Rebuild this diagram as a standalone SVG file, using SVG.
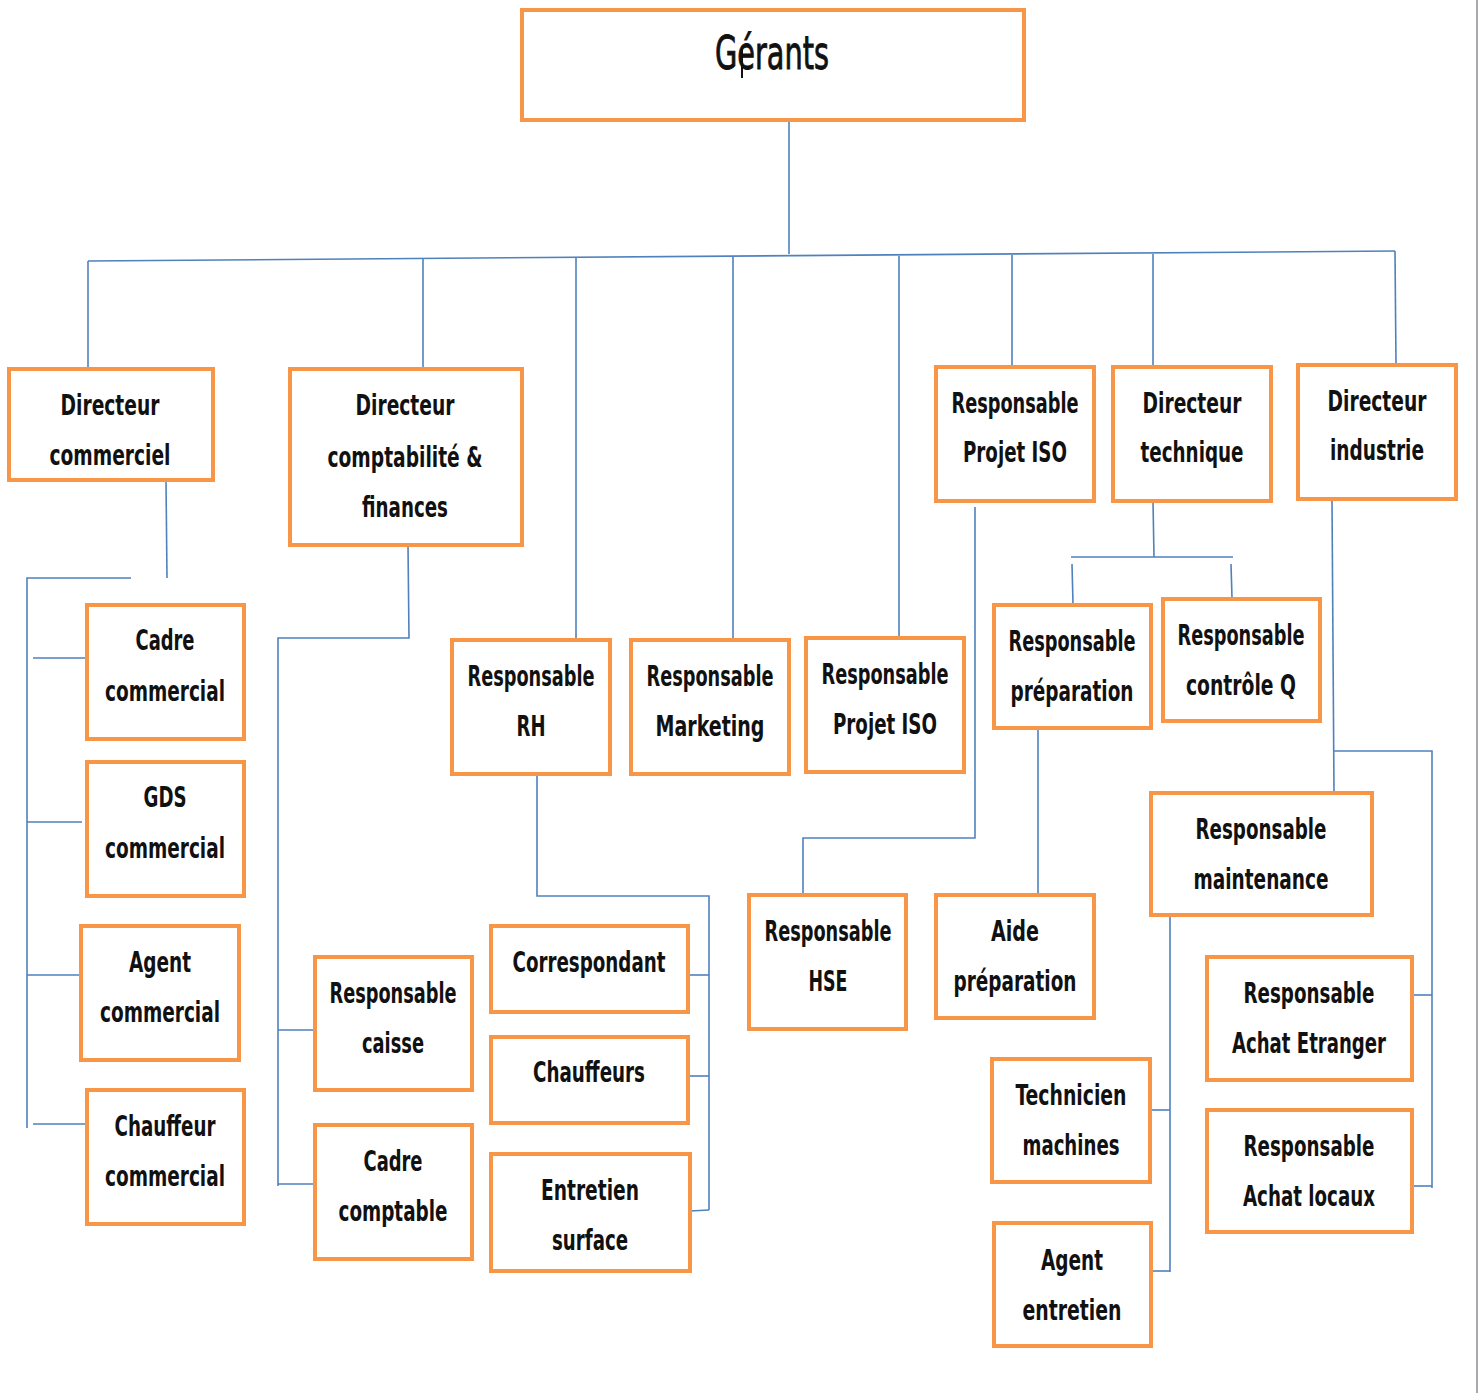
<svg xmlns="http://www.w3.org/2000/svg" width="1481" height="1393" viewBox="0 0 1481 1393">
  <style>
    .box { fill: #ffffff; stroke: #F79646; stroke-width: 4; }
    .lbl { font-family: "Liberation Sans Narrow", "DejaVu Sans Condensed", sans-serif; font-weight: bold; font-size: 29px; fill: #111111; text-anchor: middle; }
    .top { font-family: "Liberation Sans Narrow", "DejaVu Sans Condensed", sans-serif; font-size: 46px; fill: #111111; stroke: #111111; stroke-width: 0.9; text-anchor: middle; }
    .wire { fill: none; stroke: #4F81BD; stroke-width: 1.6; }
  </style>

  <rect x="0" y="0" width="1481" height="1393" fill="#ffffff"/>
  <line x1="1477" y1="0" x2="1477" y2="1393" stroke="#A6AAAE" stroke-width="2"/>

  <!-- connectors -->
  <g id="connectors" class="wire">
    <!-- top level bus -->
    <line x1="789" y1="121" x2="789" y2="254"/>
    <line x1="88" y1="261" x2="1395" y2="251"/>
    <line x1="88" y1="261" x2="88" y2="368"/>
    <line x1="423" y1="259" x2="423" y2="368"/>
    <line x1="576" y1="258" x2="576" y2="639"/>
    <line x1="733" y1="257" x2="733" y2="639"/>
    <line x1="899" y1="256" x2="899" y2="637"/>
    <line x1="1012" y1="255" x2="1012" y2="366"/>
    <line x1="1153" y1="254" x2="1153" y2="366"/>
    <line x1="1395" y1="251" x2="1396" y2="364"/>

    <!-- Directeur commercial -->
    <line x1="166" y1="480" x2="167" y2="578"/>
    <polyline points="131,578 27,578 27,1128"/>
    <line x1="33" y1="658" x2="87" y2="658"/>
    <line x1="27" y1="822" x2="82" y2="822"/>
    <line x1="27" y1="975" x2="81" y2="975"/>
    <line x1="33" y1="1124" x2="87" y2="1124"/>

    <!-- Directeur comptabilite -->
    <polyline points="408,545 409,638 278,638 278,1186"/>
    <line x1="278" y1="1030" x2="315" y2="1030"/>
    <line x1="278" y1="1184" x2="315" y2="1184"/>

    <!-- Responsable RH -->
    <polyline points="537,774 537,896 709,896 709,1210"/>
    <line x1="688" y1="975" x2="709" y2="975"/>
    <line x1="688" y1="1076" x2="709" y2="1076"/>
    <line x1="690" y1="1211" x2="709" y2="1210"/>

    <!-- Responsable Projet ISO (top) -->
    <polyline points="975,507 975,838 803,838 803,894"/>

    <!-- Directeur technique -->
    <line x1="1153" y1="501" x2="1154" y2="557"/>
    <line x1="1071" y1="557" x2="1233" y2="557"/>
    <line x1="1072" y1="564" x2="1073" y2="604"/>
    <line x1="1231" y1="564" x2="1232" y2="598"/>

    <!-- Responsable preparation -->
    <line x1="1038" y1="728" x2="1038" y2="894"/>

    <!-- Directeur industrie -->
    <polyline points="1332,501 1334,792"/>
    <polyline points="1334,751 1432,751 1432,1188"/>
    <line x1="1412" y1="995" x2="1432" y2="995"/>
    <line x1="1412" y1="1186" x2="1432" y2="1186"/>

    <!-- Responsable maintenance -->
    <line x1="1170" y1="915" x2="1170" y2="1272"/>
    <line x1="1150" y1="1110" x2="1170" y2="1110"/>
    <line x1="1151" y1="1271" x2="1170" y2="1271"/>
  </g>

  <!-- nodes -->
  <g id="gerants">
    <rect class="box" x="522" y="10" width="502" height="110"/>
    <text class="top" x="772" y="69" textLength="114" lengthAdjust="spacingAndGlyphs">Gérants</text>
    <line x1="742" y1="48" x2="742" y2="78" stroke="#111111" stroke-width="2"/>
  </g>

  <g id="dir-commercial">
    <rect class="box" x="9" y="369" width="204" height="111"/>
    <text class="lbl" x="110" y="415" textLength="99" lengthAdjust="spacingAndGlyphs">Directeur</text>
    <text class="lbl" x="110" y="465" textLength="121" lengthAdjust="spacingAndGlyphs">commerciel</text>
  </g>

  <g id="dir-comptabilite">
    <rect class="box" x="290" y="369" width="232" height="176"/>
    <text class="lbl" x="405" y="415" textLength="99" lengthAdjust="spacingAndGlyphs">Directeur</text>
    <text class="lbl" x="405" y="467" textLength="155" lengthAdjust="spacingAndGlyphs">comptabilité &amp;</text>
    <text class="lbl" x="405" y="517" textLength="86" lengthAdjust="spacingAndGlyphs">finances</text>
  </g>

  <g id="resp-iso-top">
    <rect class="box" x="936" y="367" width="158" height="134"/>
    <text class="lbl" x="1015" y="413" textLength="127" lengthAdjust="spacingAndGlyphs">Responsable</text>
    <text class="lbl" x="1015" y="462" textLength="104" lengthAdjust="spacingAndGlyphs">Projet ISO</text>
  </g>

  <g id="dir-technique">
    <rect class="box" x="1113" y="367" width="158" height="134"/>
    <text class="lbl" x="1192" y="413" textLength="99" lengthAdjust="spacingAndGlyphs">Directeur</text>
    <text class="lbl" x="1192" y="462" textLength="103" lengthAdjust="spacingAndGlyphs">technique</text>
  </g>

  <g id="dir-industrie">
    <rect class="box" x="1298" y="365" width="158" height="134"/>
    <text class="lbl" x="1377" y="411" textLength="99" lengthAdjust="spacingAndGlyphs">Directeur</text>
    <text class="lbl" x="1377" y="460" textLength="94" lengthAdjust="spacingAndGlyphs">industrie</text>
  </g>

  <g id="cadre-commercial">
    <rect class="box" x="87" y="605" width="157" height="134"/>
    <text class="lbl" x="165" y="650" textLength="59" lengthAdjust="spacingAndGlyphs">Cadre</text>
    <text class="lbl" x="165" y="701" textLength="120" lengthAdjust="spacingAndGlyphs">commercial</text>
  </g>

  <g id="gds-commercial">
    <rect class="box" x="87" y="762" width="157" height="134"/>
    <text class="lbl" x="165" y="807" textLength="43" lengthAdjust="spacingAndGlyphs">GDS</text>
    <text class="lbl" x="165" y="858" textLength="120" lengthAdjust="spacingAndGlyphs">commercial</text>
  </g>

  <g id="agent-commercial">
    <rect class="box" x="81" y="926" width="158" height="134"/>
    <text class="lbl" x="160" y="972" textLength="62" lengthAdjust="spacingAndGlyphs">Agent</text>
    <text class="lbl" x="160" y="1022" textLength="120" lengthAdjust="spacingAndGlyphs">commercial</text>
  </g>

  <g id="chauffeur-commercial">
    <rect class="box" x="87" y="1090" width="157" height="134"/>
    <text class="lbl" x="165" y="1136" textLength="101" lengthAdjust="spacingAndGlyphs">Chauffeur</text>
    <text class="lbl" x="165" y="1186" textLength="120" lengthAdjust="spacingAndGlyphs">commercial</text>
  </g>

  <g id="resp-rh">
    <rect class="box" x="452" y="640" width="158" height="134"/>
    <text class="lbl" x="531" y="686" textLength="127" lengthAdjust="spacingAndGlyphs">Responsable</text>
    <text class="lbl" x="531" y="736" textLength="29" lengthAdjust="spacingAndGlyphs">RH</text>
  </g>

  <g id="resp-marketing">
    <rect class="box" x="631" y="640" width="158" height="134"/>
    <text class="lbl" x="710" y="686" textLength="127" lengthAdjust="spacingAndGlyphs">Responsable</text>
    <text class="lbl" x="710" y="736" textLength="109" lengthAdjust="spacingAndGlyphs">Marketing</text>
  </g>

  <g id="resp-iso-mid">
    <rect class="box" x="806" y="638" width="158" height="134"/>
    <text class="lbl" x="885" y="684" textLength="127" lengthAdjust="spacingAndGlyphs">Responsable</text>
    <text class="lbl" x="885" y="734" textLength="104" lengthAdjust="spacingAndGlyphs">Projet ISO</text>
  </g>

  <g id="resp-preparation">
    <rect class="box" x="994" y="605" width="157" height="123"/>
    <text class="lbl" x="1072" y="651" textLength="127" lengthAdjust="spacingAndGlyphs">Responsable</text>
    <text class="lbl" x="1072" y="701" textLength="123" lengthAdjust="spacingAndGlyphs">préparation</text>
  </g>

  <g id="resp-controle">
    <rect class="box" x="1163" y="599" width="157" height="122"/>
    <text class="lbl" x="1241" y="645" textLength="127" lengthAdjust="spacingAndGlyphs">Responsable</text>
    <text class="lbl" x="1241" y="695" textLength="110" lengthAdjust="spacingAndGlyphs">contrôle Q</text>
  </g>

  <g id="resp-maintenance">
    <rect class="box" x="1151" y="793" width="221" height="122"/>
    <text class="lbl" x="1261" y="839" textLength="131" lengthAdjust="spacingAndGlyphs">Responsable</text>
    <text class="lbl" x="1261" y="889" textLength="135" lengthAdjust="spacingAndGlyphs">maintenance</text>
  </g>

  <g id="resp-hse">
    <rect class="box" x="749" y="895" width="157" height="134"/>
    <text class="lbl" x="828" y="941" textLength="127" lengthAdjust="spacingAndGlyphs">Responsable</text>
    <text class="lbl" x="828" y="991" textLength="39" lengthAdjust="spacingAndGlyphs">HSE</text>
  </g>

  <g id="aide-preparation">
    <rect class="box" x="936" y="895" width="158" height="123"/>
    <text class="lbl" x="1015" y="941" textLength="48" lengthAdjust="spacingAndGlyphs">Aide</text>
    <text class="lbl" x="1015" y="991" textLength="123" lengthAdjust="spacingAndGlyphs">préparation</text>
  </g>

  <g id="correspondant">
    <rect class="box" x="491" y="926" width="197" height="86"/>
    <text class="lbl" x="589" y="972" textLength="153" lengthAdjust="spacingAndGlyphs">Correspondant</text>
  </g>

  <g id="chauffeurs">
    <rect class="box" x="491" y="1037" width="197" height="86"/>
    <text class="lbl" x="589" y="1082" textLength="112" lengthAdjust="spacingAndGlyphs">Chauffeurs</text>
  </g>

  <g id="entretien-surface">
    <rect class="box" x="491" y="1154" width="199" height="117"/>
    <text class="lbl" x="590" y="1200" textLength="98" lengthAdjust="spacingAndGlyphs">Entretien</text>
    <text class="lbl" x="590" y="1250" textLength="76" lengthAdjust="spacingAndGlyphs">surface</text>
  </g>

  <g id="resp-caisse">
    <rect class="box" x="315" y="957" width="157" height="133"/>
    <text class="lbl" x="393" y="1003" textLength="127" lengthAdjust="spacingAndGlyphs">Responsable</text>
    <text class="lbl" x="393" y="1053" textLength="62" lengthAdjust="spacingAndGlyphs">caisse</text>
  </g>

  <g id="cadre-comptable">
    <rect class="box" x="315" y="1125" width="157" height="134"/>
    <text class="lbl" x="393" y="1171" textLength="59" lengthAdjust="spacingAndGlyphs">Cadre</text>
    <text class="lbl" x="393" y="1221" textLength="109" lengthAdjust="spacingAndGlyphs">comptable</text>
  </g>

  <g id="technicien-machines">
    <rect class="box" x="992" y="1059" width="158" height="123"/>
    <text class="lbl" x="1071" y="1105" textLength="111" lengthAdjust="spacingAndGlyphs">Technicien</text>
    <text class="lbl" x="1071" y="1155" textLength="97" lengthAdjust="spacingAndGlyphs">machines</text>
  </g>

  <g id="agent-entretien">
    <rect class="box" x="994" y="1223" width="157" height="123"/>
    <text class="lbl" x="1072" y="1270" textLength="62" lengthAdjust="spacingAndGlyphs">Agent</text>
    <text class="lbl" x="1072" y="1320" textLength="99" lengthAdjust="spacingAndGlyphs">entretien</text>
  </g>

  <g id="achat-etranger">
    <rect class="box" x="1207" y="957" width="205" height="123"/>
    <text class="lbl" x="1309" y="1003" textLength="131" lengthAdjust="spacingAndGlyphs">Responsable</text>
    <text class="lbl" x="1309" y="1053" textLength="154" lengthAdjust="spacingAndGlyphs">Achat Etranger</text>
  </g>

  <g id="achat-locaux">
    <rect class="box" x="1207" y="1110" width="205" height="122"/>
    <text class="lbl" x="1309" y="1156" textLength="131" lengthAdjust="spacingAndGlyphs">Responsable</text>
    <text class="lbl" x="1309" y="1206" textLength="132" lengthAdjust="spacingAndGlyphs">Achat locaux</text>
  </g>
</svg>
